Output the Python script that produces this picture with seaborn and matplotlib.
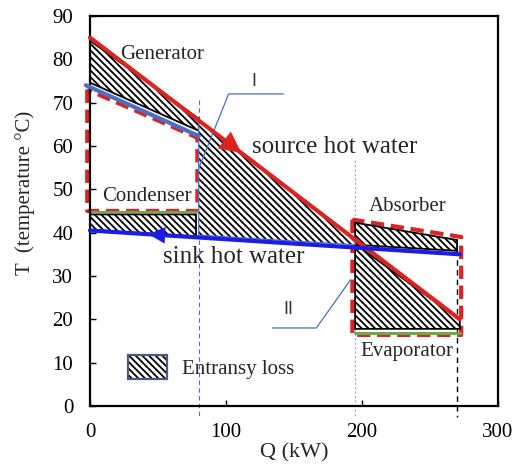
import numpy as np
import pandas as pd
import matplotlib
matplotlib.use('Agg')
import matplotlib.pyplot as plt
from matplotlib.patches import Patch
import seaborn as sns

# hot water lines (Q in kW, T in degC)
source_q = [0, 272]
source_t = [85, 20]
sink_q = [0, 272]
sink_t = [40.5, 35]
gen_blue_q = [-3, 80]
gen_blue_t = [74, 62.3]

# hatched entransy loss regions
gen_q = [0, 80, 80, 0]
gen_t = [84.3, 66.3, 63.5, 74.6]
mid_q = [80, 195, 195, 80]
mid_t = [65.8, 38.4, 37.2, 39.4]
cond_q = [0, 78, 78, 0]
cond_t = [44.2, 44.2, 39.1, 40.6]
abs_q = [195, 270, 270, 195]
abs_t = [42.3, 38.3, 35.8, 37.2]
evap_q = [195, 272, 272, 195]
evap_t = [37.4, 19.9, 17.8, 17.8]

# red dashed component boxes
cbox_q = [-2, -2, 79, 79, -2]
cbox_t = [73, 45, 45, 61.9, 73]
abox_q = [193, 193, 273, 273, 193]
abox_t = [43, 16.4, 16.4, 39, 43]

# green lines
cgreen_q = [0, 80]
cgreen_t = [44.8, 44.8]
egreen_q = [195, 272]
egreen_t = [16.9, 16.9]

# vertical guide lines
vline_q = [80, 195, 270]
vline_top = [70.5, 56.8, 36]

RED = '#dd2222'
BLUE = '#1c1ce6'
STEEL = '#4a6fc4'
GREEN = '#6aaa4a'
HATCH = '\\\\\\\\\\'

sns.set_theme(style='white')
plt.rcParams['font.family'] = ['Liberation Serif', 'DejaVu Serif']
plt.rcParams['hatch.linewidth'] = 1.3
plt.rcParams['hatch.color'] = 'black'

fig = plt.figure(figsize=(5.17, 4.68), dpi=100)
ax = fig.add_axes([0.174, 0.1325, 0.789, 0.8335])

# hatched areas
for q, t in [(gen_q, gen_t), (cond_q, cond_t), (abs_q, abs_t), (evap_q, evap_t)]:
    ax.fill(q, t, facecolor='white', edgecolor='black', hatch=HATCH, lw=1.3,
            zorder=2, clip_on=False)
ax.fill(mid_q, mid_t, facecolor='white', edgecolor='black', hatch=HATCH, lw=0, zorder=2)
ax.plot(mid_q + mid_q[:1], mid_t + mid_t[:1], color=STEEL, lw=0.9, zorder=2.1)

# dashed boxes
ax.plot(cbox_q, cbox_t, color=RED, lw=3, ls=(0, (3.2, 1.6)), zorder=1.5, clip_on=False)
ax.plot(abox_q, abox_t, color=RED, lw=3, ls=(0, (3.2, 1.6)), zorder=1.5, clip_on=False)

# green lines
ax.plot(cgreen_q, cgreen_t, color=GREEN, lw=1.6, zorder=1.8)
ax.plot(egreen_q, egreen_t, color=GREEN, lw=2.2, zorder=1.8)

# vertical guides
ax.plot([vline_q[0]] * 2, [vline_top[0], -2.6], color=STEEL, lw=0.8, ls=(0, (4, 3)),
        zorder=1.2, clip_on=False)
ax.plot([vline_q[1]] * 2, [vline_top[1], -2.6], color='#8fa8e0', lw=0.8, ls=(0, (2, 2)),
        zorder=1.2, clip_on=False)
ax.plot([vline_q[2]] * 2, [vline_top[2], -2.6], color='black', lw=1.0, ls=(0, (4, 3)),
        zorder=1.2, clip_on=False)

# main lines
src = pd.DataFrame({'Q': source_q, 'T': source_t})
snk = pd.DataFrame({'Q': sink_q, 'T': sink_t})
sns.lineplot(data=src, x='Q', y='T', color=RED, lw=3, ax=ax, zorder=4, legend=False)
sns.lineplot(data=snk, x='Q', y='T', color=BLUE, lw=3, ax=ax, zorder=4, legend=False)
ax.plot(gen_blue_q, gen_blue_t, color=STEEL, lw=3, zorder=3.5, clip_on=False)
for ln in ax.lines:
    ln.set_clip_on(False)

# direction arrows
qa = 113
ax.annotate('', xy=(qa, np.interp(qa, source_q, source_t)),
            xytext=(qa - 8, np.interp(qa - 8, source_q, source_t)),
            arrowprops=dict(arrowstyle='-|>,head_length=0.7,head_width=0.35',
                            color=RED, lw=0, mutation_scale=22), zorder=5)
qb = 41
ax.annotate('', xy=(qb, np.interp(qb, sink_q, sink_t)),
            xytext=(qb + 8, np.interp(qb + 8, sink_q, sink_t)),
            arrowprops=dict(arrowstyle='-|>,head_length=0.6,head_width=0.3',
                            color=BLUE, lw=0, mutation_scale=20), zorder=5)

# leader lines for I and II
ax.plot([142.2, 102, 79.6], [72, 72, 54.5], color=STEEL, lw=0.9, zorder=3)
ax.plot([134.1, 166.5, 191.6], [18, 18, 29.1], color=STEEL, lw=0.9, zorder=3)
ax.text(120.5, 74.8, 'I', fontsize=13, family=['Liberation Sans'], color='#333333',
        ha='center', va='center')
ax.text(146, 22.3, 'II', fontsize=13, family=['Liberation Sans'], color='#333333',
        ha='center', va='center')

# labels
ax.text(53, 81, 'Generator', fontsize=15, ha='center', va='center', zorder=6)
ax.text(180, 59.8, 'source hot water', fontsize=18, ha='center', va='center', zorder=6)
ax.text(42, 48.4, 'Condenser', fontsize=15, ha='center', va='center', zorder=6)
ax.text(105.5, 34.4, 'sink hot water', fontsize=18, ha='center', va='center', zorder=6)
ax.text(234, 46, 'Absorber', fontsize=15, ha='center', va='center', zorder=6)
ax.text(233, 12.5, 'Evaporator', fontsize=15, ha='center', va='center', zorder=6)

# legend
h_fill = Patch(facecolor='white', edgecolor='black', hatch=HATCH, lw=0)
h_edge = Patch(facecolor='none', edgecolor='#4a5a80', lw=1.6)
ax.legend(handles=[(h_fill, h_edge)], labels=['Entransy loss'], loc='center left',
          bbox_to_anchor=(0.093, 0.1), frameon=False, fontsize=15, borderpad=0,
          borderaxespad=0, handlelength=1.9, handleheight=1.45, handletextpad=0.7)

ax.set_xlim(0, 300)
ax.set_ylim(0, 90)
ax.set_xticks([0, 100, 200, 300])
ax.set_yticks(range(0, 91, 10))
ax.tick_params(direction='in', length=4, width=1, colors='black', labelsize=15, pad=12)
ax.tick_params(axis='x', bottom=True)
ax.tick_params(axis='y', left=True)
for s in ax.spines.values():
    s.set_color('black')
    s.set_linewidth(1.6)
ax.set_xlabel('Q (kW)', fontsize=16, labelpad=1)
ax.set_ylabel('T  (temperature °C)', fontsize=15)
ax.yaxis.set_label_coords(-0.135, 0.546)
ax.grid(False)

fig.savefig('out.png', dpi=100)
